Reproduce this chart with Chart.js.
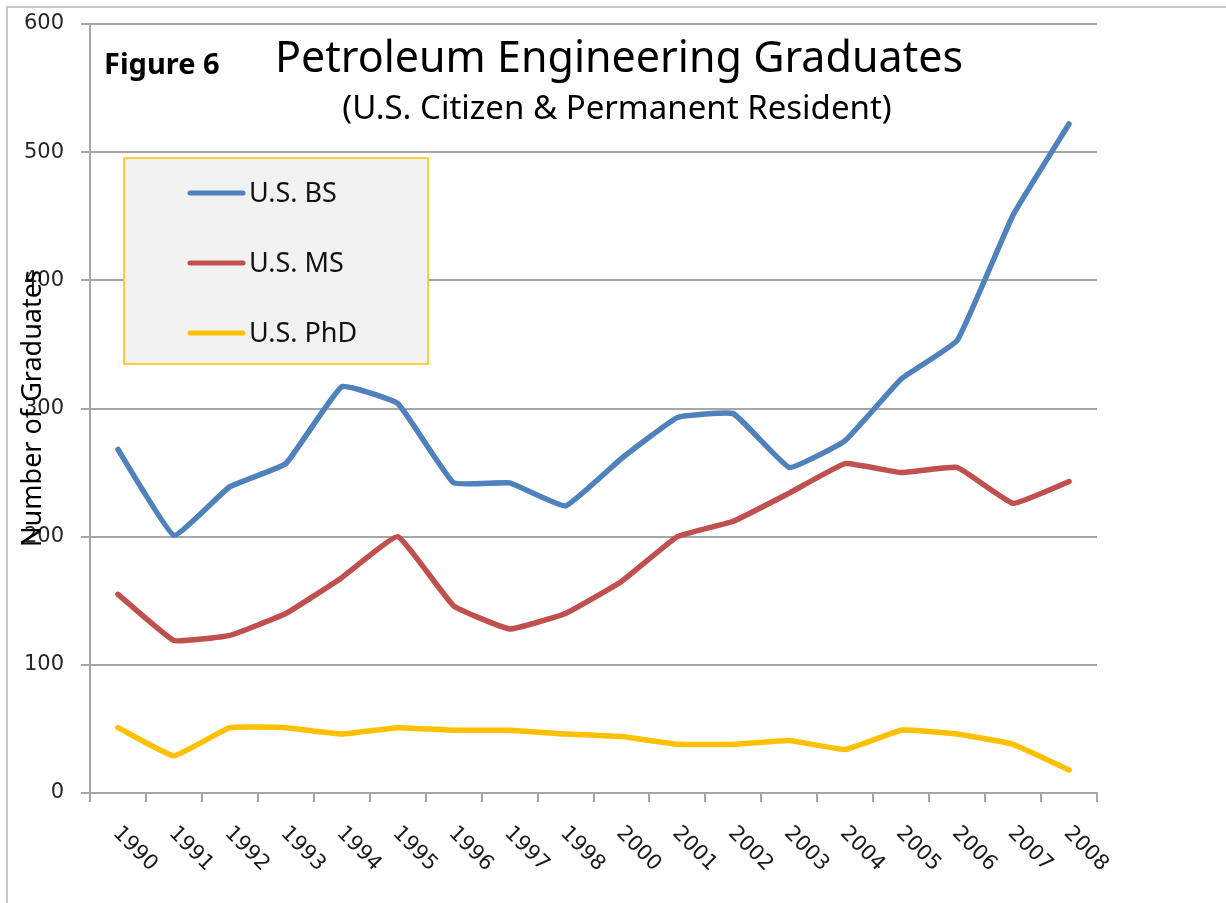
<!DOCTYPE html>
<html>
<head>
<meta charset="utf-8">
<script src="https://cdn.jsdelivr.net/npm/chart.js@4/dist/chart.umd.min.js"></script>
<style>
  html, body { margin: 0; padding: 0; background: #fff; }
  canvas { display: block; }
</style>
</head>
<body>
<canvas id="gradChart" width="1226" height="903"></canvas>
<script>
const years = ['1990', '1991', '1992', '1993', '1994', '1995', '1996', '1997', '1998',
               '2000', '2001', '2002', '2003', '2004', '2005', '2006', '2007', '2008'];
const usBS  = [268, 201, 239, 257, 317, 304, 242, 242, 224, 261, 293, 296, 254, 275, 323, 353, 451, 522];
const usMS  = [155, 119, 123, 140, 168, 200, 146, 128, 140, 165, 200, 212, 234, 257, 250, 254, 226, 243];
const usPhD = [51, 29, 51, 51, 46, 51, 49, 49, 46, 44, 38, 38, 41, 34, 49, 46, 38, 18];
const yTicks = [0, 100, 200, 300, 400, 500, 600];

const gridGrey = '#a6a6a6';

// titles, legend box, rotated year labels, y title and frame
const decorations = {
    id: 'decorations',
    beforeDraw(chart) {
        const c = chart.ctx;
        c.save();
        c.strokeStyle = '#c8c8c8';
        c.lineWidth = 2;
        c.beginPath();
        c.moveTo(7, chart.height);
        c.lineTo(7, 7);
        c.lineTo(chart.width, 7);
        c.stroke();
        c.restore();
    },
    afterDraw(chart) {
        const c = chart.ctx;
        const area = chart.chartArea;
        const x = chart.scales.x;
        c.save();

        // year labels, rotated clockwise
        c.fillStyle = '#1a1a1a';
        c.font = '21px "DejaVu Sans"';
        c.textAlign = 'center';
        c.textBaseline = 'middle';
        chart.data.labels.forEach((lab, i) => {
            c.save();
            c.translate(x.getPixelForValue(i) + 17, area.bottom + 56);
            c.rotate(Math.PI / 4);
            c.fillText(lab, 0, 0);
            c.restore();
        });

        // y axis title (overlaps tick labels like the original)
        c.save();
        c.translate(area.left - 57, (area.top + area.bottom) / 2);
        c.rotate(-Math.PI / 2);
        c.fillStyle = '#000';
        c.font = '27px "Noto Sans"';
        c.fillText('Number of Graduates', 0, 0);
        c.restore();

        // titles
        c.fillStyle = '#000';
        c.textAlign = 'left';
        c.font = 'bold 29px "Noto Sans"';
        c.fillText('Figure 6', 104, 66);
        c.textAlign = 'center';
        c.font = '43px "Noto Sans"';
        c.fillText('Petroleum Engineering Graduates', 619, 60);
        c.font = '33px "Noto Sans"';
        c.fillText('(U.S. Citizen & Permanent Resident)', 617, 110);

        // legend box
        c.fillStyle = '#f2f2f2';
        c.fillRect(124, 158, 304, 206);
        c.strokeStyle = '#ffc000';
        c.lineWidth = 1.5;
        c.strokeRect(124, 158, 304, 206);
        c.textAlign = 'left';
        c.font = '27px "Noto Sans"';
        c.lineCap = 'round';
        chart.data.datasets.forEach((ds, i) => {
            const ly = 193 + i * 70;
            c.strokeStyle = ds.borderColor;
            c.lineWidth = 5;
            c.beginPath();
            c.moveTo(190, ly);
            c.lineTo(243, ly);
            c.stroke();
            c.fillStyle = '#111';
            c.fillText(ds.label, 249, ly + 1);
        });
        c.restore();
    }
};

const lineSet = (label, data, color) => ({
    label,
    data,
    borderColor: color,
    backgroundColor: color,
    borderWidth: 5.5,
    pointRadius: 0,
    tension: 0.1,
    borderCapStyle: 'round',
    borderJoinStyle: 'round',
    fill: false,
});

new Chart(document.getElementById('gradChart').getContext('2d'), {
    type: 'line',
    data: {
        labels: years,
        datasets: [
            lineSet('U.S. BS', usBS, '#4f81bd'),
            lineSet('U.S. MS', usMS, '#c0504d'),
            lineSet('U.S. PhD', usPhD, '#ffc000'),
        ],
    },
    options: {
        responsive: false,
        animation: false,
        devicePixelRatio: 1,
        layout: { padding: { top: 24, right: 129, left: 0, bottom: 0 } },
        plugins: { legend: { display: false }, tooltip: { enabled: false } },
        scales: {
            x: {
                offset: true,
                grid: { drawOnChartArea: false, drawTicks: true, tickLength: 9, color: gridGrey, lineWidth: 2, offset: true },
                border: { color: gridGrey, width: 2 },
                ticks: { display: false },
                afterFit: (s) => { s.height = 110; s.paddingLeft = 0; s.paddingRight = 0; },
            },
            y: {
                min: 0,
                max: 600,
                afterBuildTicks: (s) => { s.ticks = yTicks.map(v => ({ value: v })); },
                grid: { color: gridGrey, lineWidth: 2, tickLength: 9 },
                border: { color: gridGrey, width: 2 },
                ticks: { font: { family: 'DejaVu Sans', size: 21 }, color: '#262626', padding: 17 },
                afterFit: (s) => { s.width = 90; s.paddingTop = 0; s.paddingBottom = 0; },
            },
        },
    },
    plugins: [decorations],
});
</script>
</body>
</html>
